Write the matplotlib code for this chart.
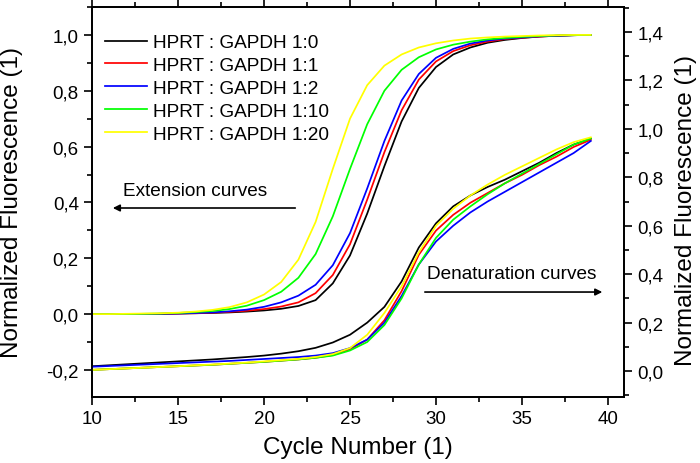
import matplotlib
matplotlib.use("Agg")
import matplotlib.pyplot as plt
from matplotlib.ticker import MultipleLocator, FuncFormatter

plt.rcParams['font.family'] = ['Liberation Sans', 'DejaVu Sans']

cycles = list(range(10, 40))
labels = ["HPRT : GAPDH 1:0", "HPRT : GAPDH 1:1", "HPRT : GAPDH 1:2",
          "HPRT : GAPDH 1:10", "HPRT : GAPDH 1:20"]
colors = ["#000000", "#FF0000", "#0000FF", "#00FF00", "#FFFF00"]

# Extension curves (left axis), cycles 10..39
ext_black = [0, 0, 0, 0, 0.001, 0.002, 0.003, 0.004, 0.006, 0.009, 0.013, 0.019, 0.029, 0.05, 0.11,
             0.21, 0.36, 0.53, 0.69, 0.81, 0.885, 0.93, 0.955, 0.972, 0.982, 0.989, 0.994, 0.997, 0.999, 1.0]
ext_red = [0, 0, 0, 0, 0.001, 0.002, 0.003, 0.005, 0.008, 0.012, 0.018, 0.027, 0.042, 0.075, 0.14,
           0.25, 0.41, 0.58, 0.73, 0.84, 0.905, 0.942, 0.963, 0.976, 0.985, 0.99, 0.994, 0.997, 0.999, 1.0]
ext_blue = [0, 0, 0, 0, 0.001, 0.002, 0.004, 0.006, 0.01, 0.016, 0.026, 0.042, 0.066, 0.105, 0.175,
            0.29, 0.45, 0.62, 0.765, 0.86, 0.918, 0.95, 0.969, 0.98, 0.987, 0.991, 0.995, 0.997, 0.999, 1.0]
ext_green = [0, 0, 0, 0.001, 0.002, 0.004, 0.007, 0.011, 0.018, 0.03, 0.05, 0.08, 0.13, 0.215, 0.35,
             0.52, 0.68, 0.80, 0.875, 0.92, 0.948, 0.965, 0.976, 0.984, 0.989, 0.993, 0.996, 0.998, 0.999, 1.0]
ext_yellow = [0, 0, 0.001, 0.002, 0.003, 0.005, 0.009, 0.015, 0.025, 0.042, 0.07, 0.115, 0.195, 0.33, 0.52,
              0.70, 0.82, 0.89, 0.93, 0.955, 0.97, 0.98, 0.987, 0.991, 0.994, 0.996, 0.998, 0.999, 1.0, 1.0]

# Denaturation curves (right axis), cycles 10..39
den_black = [0.02, 0.024, 0.028, 0.032, 0.036, 0.04, 0.044, 0.048, 0.053, 0.058, 0.064, 0.072, 0.082, 0.096, 0.118,
             0.15, 0.20, 0.265, 0.37, 0.51, 0.61, 0.68, 0.725, 0.76, 0.79, 0.825, 0.86, 0.90, 0.935, 0.96]
den_red = [0.005, 0.008, 0.011, 0.014, 0.017, 0.02, 0.023, 0.026, 0.03, 0.034, 0.038, 0.043, 0.048, 0.055, 0.066,
           0.09, 0.13, 0.21, 0.33, 0.48, 0.58, 0.645, 0.695, 0.735, 0.775, 0.81, 0.85, 0.885, 0.925, 0.955]
den_blue = [0.018, 0.021, 0.024, 0.027, 0.03, 0.033, 0.036, 0.039, 0.042, 0.046, 0.05, 0.054, 0.058, 0.064, 0.074,
            0.095, 0.13, 0.20, 0.31, 0.44, 0.535, 0.60, 0.655, 0.70, 0.74, 0.78, 0.82, 0.86, 0.90, 0.95]
den_green = [0.005, 0.008, 0.011, 0.014, 0.017, 0.02, 0.023, 0.026, 0.03, 0.034, 0.038, 0.043, 0.048, 0.055, 0.064,
             0.085, 0.12, 0.19, 0.30, 0.44, 0.55, 0.625, 0.68, 0.73, 0.775, 0.815, 0.855, 0.895, 0.935, 0.96]
den_yellow = [0.005, 0.008, 0.011, 0.014, 0.017, 0.02, 0.024, 0.027, 0.031, 0.035, 0.04, 0.045, 0.05, 0.058, 0.07,
              0.095, 0.15, 0.24, 0.35, 0.49, 0.60, 0.67, 0.725, 0.77, 0.81, 0.845, 0.88, 0.915, 0.945, 0.965]

ext_series = [ext_black, ext_red, ext_blue, ext_green, ext_yellow]
den_series = [den_black, den_red, den_blue, den_green, den_yellow]

fig = plt.figure(figsize=(7.0, 4.64), dpi=100)
ax = fig.add_axes([92/700, 1-398/464, (624-92)/700, (398-8)/464])
ax2 = ax.twinx()

lw = 1.25
handles = []
for ys, c, lab in zip(ext_series, colors, labels):
    h, = ax.plot(cycles, ys, color=c, lw=lw, label=lab)
    handles.append(h)
for ys, c in zip(den_series, colors):
    ax2.plot(cycles, ys, color=c, lw=lw)

ax.set_xlim(10, 40.93)
ax.set_ylim(-0.297, 1.10)
ax2.set_ylim(-0.107, 1.503)

comma = FuncFormatter(lambda v, p: f"{v:.1f}".replace('.', ','))
ax.xaxis.set_major_locator(MultipleLocator(5))
ax.xaxis.set_minor_locator(MultipleLocator(2.5))
ax.yaxis.set_major_locator(MultipleLocator(0.2))
ax.yaxis.set_minor_locator(MultipleLocator(0.1))
ax.yaxis.set_major_formatter(comma)
ax2.yaxis.set_major_locator(MultipleLocator(0.2))
ax2.yaxis.set_minor_locator(MultipleLocator(0.1))
ax2.yaxis.set_major_formatter(comma)

for a in (ax, ax2):
    for s in a.spines.values():
        s.set_linewidth(1.3)
ax.tick_params(axis='both', which='major', direction='out', length=6, width=1.2, labelsize=13.5,
               top=True, labeltop=False)
ax.tick_params(axis='both', which='minor', direction='out', length=3.5, width=1.2, top=True)
ax2.tick_params(axis='y', which='major', direction='out', length=6, width=1.2, labelsize=13.5)
ax2.tick_params(axis='y', which='minor', direction='out', length=3.5, width=1.2)

ax.set_xlabel("Cycle Number (1)", fontsize=17.5, labelpad=6)
fig.text(12/700, 1-203/464, "Normalized Fluorescence (1)", fontsize=17.5, rotation=90,
         ha='center', va='center')
fig.text(686/700, 1-210/464, "Normalized Fluorescence (1)", fontsize=17.5, rotation=90,
         ha='center', va='center')

leg = ax2.legend(handles=handles, labels=labels, loc='upper left', bbox_to_anchor=(0.0, 0.965),
                 frameon=False, fontsize=13.7, handlelength=2.2, handletextpad=0.3,
                 labelspacing=0.29, borderaxespad=0.3)

ax.annotate("", xy=(11.05, 0.38), xytext=(21.98, 0.38),
            arrowprops=dict(arrowstyle='-|>', color='black', lw=1.2, mutation_scale=10))
ax.text(16.02, 0.444, "Extension curves", fontsize=13.7, ha='center', va='center')
ax.annotate("", xy=(39.83, 0.079), xytext=(29.19, 0.079),
            arrowprops=dict(arrowstyle='-|>', color='black', lw=1.2, mutation_scale=10))
ax.text(34.42, 0.147, "Denaturation curves", fontsize=13.7, ha='center', va='center')

fig.savefig("out.png", dpi=100)
